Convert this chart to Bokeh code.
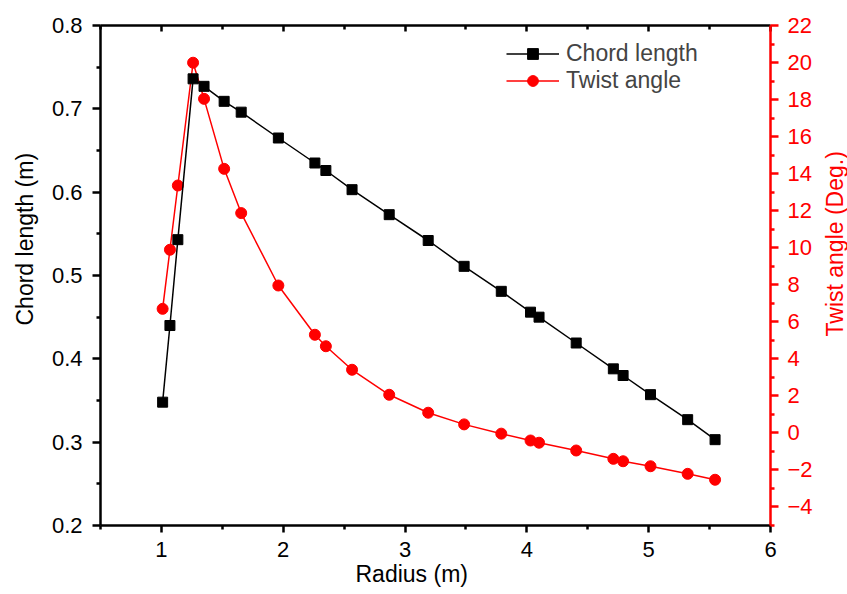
import math
from bokeh.plotting import figure
from bokeh.models import (LinearAxis, Range1d, FixedTicker, Title, Legend, Label,
                          LegendItem, ColumnDataSource, CustomJSTickFormatter)
from bokeh.embed import file_html
from bokeh.resources import INLINE

# ---------------- data ----------------
radius = [1.01, 1.07, 1.135, 1.26, 1.35, 1.515, 1.655, 1.96, 2.26, 2.35,
          2.565, 2.87, 3.19, 3.485, 3.79, 4.03, 4.10, 4.405, 4.71, 4.79,
          5.015, 5.32, 5.545]
chord = [0.348, 0.440, 0.543, 0.736, 0.727, 0.709, 0.696, 0.665, 0.635,
         0.626, 0.603, 0.573, 0.542, 0.511, 0.481, 0.456, 0.450, 0.419,
         0.388, 0.380, 0.357, 0.327, 0.303]
twist = [6.70, 9.89, 13.36, 19.99, 18.04, 14.26, 11.87, 7.96, 5.30, 4.68,
         3.41, 2.06, 1.09, 0.46, -0.04, -0.41, -0.53, -0.95, -1.40, -1.53,
         -1.80, -2.21, -2.53]

x_ticks = [1, 2, 3, 4, 5, 6]
x_minor = [0.5, 1.5, 2.5, 3.5, 4.5, 5.5]
chord_ticks = [0.2, 0.3, 0.4, 0.5, 0.6, 0.7, 0.8]
chord_minor = [0.25, 0.35, 0.45, 0.55, 0.65, 0.75]
twist_ticks = [-4, -2, 0, 2, 4, 6, 8, 10, 12, 14, 16, 18, 20, 22]
twist_minor = [-5, -3, -1, 1, 3, 5, 7, 9, 11, 13, 15, 17, 19, 21]

x_label = "Radius (m)"
chord_label = "Chord length (m)"
twist_label = "Twist angle (Deg.)"
series_names = ["Chord length", "Twist angle"]

FONT = "Liberation Sans"
RED = "#FF0000"

src = ColumnDataSource(dict(r=radius, c=chord, t=twist))

p = figure(width=847, height=594, x_range=Range1d(0.5, 6),
           y_range=Range1d(0.2, 0.8), output_backend="svg",
           toolbar_location=None, x_axis_type=None, y_axis_type=None,
           min_border_left=100, min_border_right=77, min_border_top=25,
           min_border_bottom=69)
p.extra_y_ranges = {"twist": Range1d(-5, 22)}
p.outline_line_color = None
p.background_fill_color = "white"
p.border_fill_color = "white"


def style(ax, color, tick_in, tick_out, minor_in, minor_out, standoff):
    ax.axis_line_color = color
    ax.axis_line_width = 2.5
    ax.major_tick_line_color = color
    ax.major_tick_line_width = 2.5
    ax.minor_tick_line_color = color
    ax.minor_tick_line_width = 2.5
    ax.major_tick_in = tick_in
    ax.major_tick_out = tick_out
    ax.minor_tick_in = minor_in
    ax.minor_tick_out = minor_out
    ax.major_label_text_font = FONT
    ax.major_label_text_font_size = "22px"
    ax.major_label_text_color = color
    ax.major_label_standoff = standoff


bottom = LinearAxis(ticker=FixedTicker(ticks=x_ticks, minor_ticks=x_minor))
style(bottom, "black", 0, 7, 0, 4, 9)
p.add_layout(bottom, "below")

# mirrored top axis: inward ticks, no labels
top = LinearAxis(ticker=FixedTicker(ticks=x_ticks, minor_ticks=x_minor),
                 formatter=CustomJSTickFormatter(code="return ''"))
style(top, "black", 6, 0, 4, 0, 0)
top.major_label_text_font_size = "0px"
p.add_layout(top, "above")

left = LinearAxis(ticker=FixedTicker(ticks=chord_ticks, minor_ticks=chord_minor))
style(left, "black", 0, 8, 0, 4, 10)
p.add_layout(left, "left")

right = LinearAxis(y_range_name="twist",
                   ticker=FixedTicker(ticks=twist_ticks, minor_ticks=twist_minor))
style(right, RED, 0, 8, 0, 4, 9)
p.add_layout(right, "right")

# axis titles
p.add_layout(Title(text=x_label, align="left", offset=255,
                   vertical_align="middle", standoff=0, text_font=FONT,
                   text_font_size="23px", text_font_style="normal",
                   text_color="black"), "below")
p.add_layout(Title(text=chord_label, align="left", offset=200,
                   vertical_align="middle", standoff=20, text_font=FONT,
                   text_font_size="23px", text_font_style="normal",
                   text_color="black"), "left")
p.add_layout(Label(x=6.53, y=0.538, text=twist_label, angle=math.pi / 2,
                   text_align="center", text_baseline="middle",
                   text_font=FONT, text_font_size="23px", text_color=RED),
             "right")

# series
l2 = p.line("r", "t", source=src, y_range_name="twist", line_color=RED,
            line_width=1.5)
s2 = p.scatter("r", "t", source=src, y_range_name="twist", marker="circle",
               size=11, fill_color=RED, line_color=RED)
l1 = p.line("r", "c", source=src, line_color="black", line_width=1.5)
s1 = p.scatter("r", "c", source=src, marker="square", size=10,
               fill_color="black", line_color="black")

legend = Legend(items=[LegendItem(label=series_names[0], renderers=[l1, s1]),
                       LegendItem(label=series_names[1], renderers=[l2, s2])],
                location=(406, 431), border_line_color=None,
                background_fill_alpha=0, glyph_width=53, glyph_height=27,
                label_height=27, label_standoff=7, padding=0, margin=0,
                spacing=0, label_text_font=FONT, label_text_font_size="23px")
p.add_layout(legend)

open("out.html", "w").write(file_html(p, INLINE))
